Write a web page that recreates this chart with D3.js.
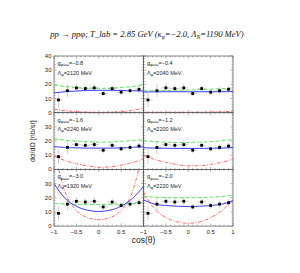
<!DOCTYPE html>
<html lang="en">
<meta charset="UTF-8" />
<title>pp -> pp phi angular distributions</title>
<style>
  body { margin: 0; background: #fff; }
  svg { display: block; }
  .tick-label { font-family: "Liberation Sans", Arial, sans-serif; font-size: 6px; fill: #222; }
  .note { font-family: "Liberation Sans", Arial, sans-serif; font-size: 5.5px; fill: #222; }
  .title { font-family: "Liberation Serif", "Times New Roman", serif; font-style: italic; font-size: 8.6px; fill: #111; }
  .axis-title { font-family: "Liberation Sans", Arial, sans-serif; fill: #222; }
</style>
<body>
<svg width="300" height="273"></svg>
<script src="https://d3js.org/d3.v7.min.js"></script>
<script>
  // measured points (same in each panel)
  const cosBins = [-0.9, -0.7, -0.5, -0.3, -0.1, 0.1, 0.3, 0.5, 0.7, 0.9];
  const dataY   = [9, 15.5, 17.5, 17, 17.5, 13.5, 17, 14.5, 15.5, 16.5];
  const dataErr = [5, 4.5, 3, 2.5, 3, 2, 2.5, 2, 2.5, 2.5];
  const binHalf = 0.1;

  // panel parameters, row by row
  const gValues = ["\u22120.8", "\u22120.4", "\u22121.6", "\u22121.2", "\u22123.0", "\u22122.0"];
  const lambdas = [2120, 2040, 2240, 2200, 1920, 2220];

  // model curves sampled at curveX
  const curveX = [-1, -0.75, -0.5, -0.25, 0, 0.25, 0.5, 0.75, 1];
  const blue = [
    [14, 14.8, 15.3, 15.7, 15.8, 15.8, 15.7, 15.5, 15.2],
    [14.6, 14.7, 14.8, 14.8, 14.8, 14.8, 14.8, 14.8, 14.9],
    [16, 15.5, 15.2, 15, 15, 15, 15.2, 15.5, 16],
    [15.3, 15, 14.9, 14.8, 14.8, 14.8, 14.9, 15, 15.4],
    [30, 19.5, 14, 11.2, 10.3, 11.2, 14, 19.5, 28],
    [18.5, 15.5, 14.5, 14, 13.8, 14, 14.5, 15.5, 17.8]
  ];
  const green = [
    [19.5, 18.5, 17.8, 17.3, 17.2, 17.3, 17.8, 18.5, 19.5],
    [15.5, 15.6, 15.7, 15.8, 16, 16.2, 16.6, 17, 17.5],
    [21.5, 20.6, 20, 19.5, 19.2, 19.3, 19.8, 20.3, 21],
    [20.3, 19.6, 19.2, 19, 19, 19.2, 19.6, 20.2, 21],
    [16, 15.6, 15.4, 15.3, 15.3, 15.4, 15.6, 16, 16.6],
    [21, 20.4, 20.1, 20, 20, 20.1, 20.4, 20.9, 21.7]
  ];
  const red = [
    [2.5, 1.4, 0.8, 0.4, 0.2, 0.4, 0.8, 1.6, 3.2],
    [0.3, 0.3, 0.3, 0.3, 0.3, 0.4, 0.5, 0.7, 1],
    [9.5, 6.2, 4, 2.5, 1.5, 1.8, 3, 4.8, 7.5],
    [10, 7, 5, 3.4, 2.5, 2.6, 3.5, 5, 7.3],
    [55, 24, 11, 6, 4.5, 6, 11, 24, 55],
    [24, 12, 6, 3, 2, 3, 6, 11, 19]
  ];

  const xTicks = [-1, -0.5, 0, 0.5, 1];
  const yTicks = [0, 10, 20, 30, 40];

  const svg = d3.select("svg");
  const plotLeft = 54, plotTop = 56, pw = 89.5, ph = 56.7;

  svg.append("text").attr("class", "title")
    .attr("x", 147).attr("y", 37).attr("text-anchor", "middle")
    .call(t => {
      t.append("tspan").text("pp \u2192 pp\u03c6; T_lab = 2.85 GeV (\u03ba");
      t.append("tspan").attr("font-size", 5.5).attr("dy", 1.5).text("\u03c6");
      t.append("tspan").attr("dy", -1.5).text("=\u22122.0, \u039b");
      t.append("tspan").attr("font-size", 5.5).attr("dy", 1.5).text("N");
      t.append("tspan").attr("dy", -1.5).text("=1190 MeV)");
    });

  const defs = svg.append("defs");

  for (let i = 0; i < 6; i++) {
    const col = i % 2, row = Math.floor(i / 2);
    const x0 = plotLeft + col * pw, y0 = plotTop + row * ph;
    const x = d3.scaleLinear().domain([-1, 1]).range([x0, x0 + pw]);
    const y = d3.scaleLinear().domain([0, 40]).range([y0 + ph, y0]);

    defs.append("clipPath").attr("id", "clip" + i)
      .append("rect").attr("x", x0).attr("y", y0).attr("width", pw).attr("height", ph);

    const g = svg.append("g");

    // frame
    g.append("rect").attr("x", x0).attr("y", y0).attr("width", pw).attr("height", ph)
      .attr("fill", "none").attr("stroke", "#555").attr("stroke-width", 0.7);

    // inward ticks on all sides
    const tk = g.append("g").attr("stroke", "#666").attr("stroke-width", 0.5);
    d3.range(-1, 1.0001, 0.1).forEach(v => {
      const major = Math.abs(v * 2 - Math.round(v * 2)) < 1e-6;
      const len = major ? 2.6 : 1.4;
      tk.append("line").attr("x1", x(v)).attr("x2", x(v)).attr("y1", y0 + ph).attr("y2", y0 + ph - len);
      tk.append("line").attr("x1", x(v)).attr("x2", x(v)).attr("y1", y0).attr("y2", y0 + len);
    });
    d3.range(0, 40.001, 2).forEach(v => {
      const len = v % 10 === 0 ? 2.6 : 1.4;
      tk.append("line").attr("y1", y(v)).attr("y2", y(v)).attr("x1", x0).attr("x2", x0 + len);
      tk.append("line").attr("y1", y(v)).attr("y2", y(v)).attr("x1", x0 + pw).attr("x2", x0 + pw - len);
    });

    // y tick labels (left column)
    if (col === 0) {
      yTicks.filter(v => row === 0 || v < 40).forEach(v => {
        g.append("text").attr("class", "tick-label")
          .attr("x", x0 - 2.5).attr("y", y(v) + 2).attr("text-anchor", "end")
          .text(v);
      });
    }
    // x tick labels (bottom row)
    if (row === 2) {
      xTicks.filter(v => col === 1 || v < 1).forEach(v => {
        g.append("text").attr("class", "tick-label")
          .attr("x", x(v)).attr("y", y0 + ph + 7.5).attr("text-anchor", "middle")
          .text(v < 0 ? "\u2212" + Math.abs(v) : v);
      });
    }

    // curves
    const line = d3.line().curve(d3.curveMonotoneX).x((d, j) => x(curveX[j])).y(d => y(d));
    const cg = g.append("g").attr("clip-path", `url(#clip${i})`).attr("fill", "none");
    cg.append("path").attr("d", line(red[i])).attr("stroke", "#ff5a5a")
      .attr("stroke-width", 0.9).attr("stroke-dasharray", "3.5,1.5,1,1.5");
    cg.append("path").attr("d", line(green[i])).attr("stroke", "#5ee65e")
      .attr("stroke-width", 1).attr("stroke-dasharray", "4,2");
    cg.append("path").attr("d", line(blue[i])).attr("stroke", "#3a3aff")
      .attr("stroke-width", 1);

    // data with error bars
    const eg = g.append("g").attr("stroke", "#9a9a9a").attr("stroke-width", 0.5);
    cosBins.forEach((c, j) => {
      eg.append("line").attr("x1", x(c - binHalf)).attr("x2", x(c + binHalf))
        .attr("y1", y(dataY[j])).attr("y2", y(dataY[j]));
      eg.append("line").attr("x1", x(c)).attr("x2", x(c))
        .attr("y1", y(dataY[j] - dataErr[j])).attr("y2", y(dataY[j] + dataErr[j]));
    });
    g.append("g").selectAll("rect").data(cosBins).join("rect")
      .attr("x", d => x(d) - 1.4).attr("y", (d, j) => y(dataY[j]) - 1.4)
      .attr("width", 2.8).attr("height", 2.8).attr("fill", "#000");

    // annotations
    g.append("text").attr("class", "note").attr("x", x0 + 3.5).attr("y", y0 + 9)
      .call(t => {
        t.append("tspan").text("g");
        t.append("tspan").attr("font-size", 3.8).attr("dy", 1.2).text("\u03c6\u03c9\u03c9");
        t.append("tspan").attr("dy", -1.2).text("=" + gValues[i]);
      });
    g.append("text").attr("class", "note").attr("x", x0 + 3.5).attr("y", y0 + 18.5)
      .call(t => {
        t.append("tspan").text("\u039b");
        t.append("tspan").attr("font-size", 3.8).attr("dy", 1.2).text("\u03c6");
        t.append("tspan").attr("dy", -1.2).text("=" + lambdas[i] + " MeV");
      });
  }

  // axis titles
  svg.append("text").attr("class", "axis-title").attr("font-size", 8.5)
    .attr("x", plotLeft + pw).attr("y", plotTop + 3 * ph + 17).attr("text-anchor", "middle")
    .text("cos(\u03b8)");
  svg.append("text").attr("class", "axis-title").attr("font-size", 7.2)
    .attr("transform", `translate(35,${plotTop + 1.5 * ph}) rotate(-90)`)
    .attr("text-anchor", "middle")
    .text("d\u03c3/d\u03a9 [nb/sr]");
</script>
</body>
</html>
